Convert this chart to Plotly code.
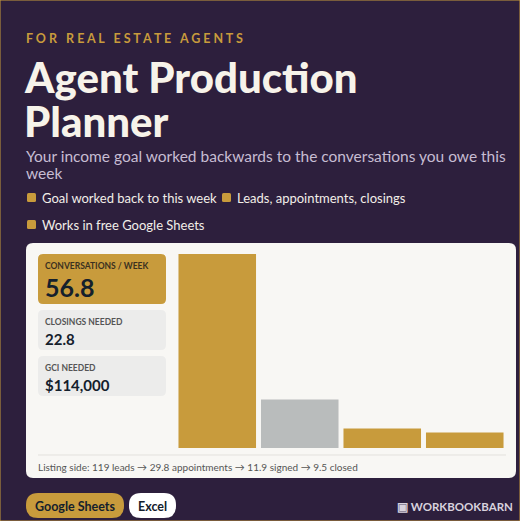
import plotly.graph_objects as go

stages = ["Leads", "Appointments", "Signed", "Closed"]
values = [119, 29.8, 11.9, 9.5]
bar_colors = ["#c89b3c", "#b9bcbc", "#c89b3c", "#c89b3c"]
stats = [("CONVERSATIONS / WEEK", "56.8"), ("CLOSINGS NEEDED", "22.8"), ("GCI NEEDED", "$114,000")]
bullets = ["Goal worked back to this week", "Leads, appointments, closings", "Works in free Google Sheets"]

W, H = 520, 521
BG = "#2d1f3d"; GOLD = "#c89b3c"; CARD = "#f8f7f4"; INK = "#14202c"
FONT = "Lato, Noto Sans, sans-serif"

def px(x): return x / W
def py(y): return 1 - y / H

fig = go.Figure(go.Bar(x=stages, y=values, marker=dict(color=bar_colors, line=dict(width=0)), hoverinfo="skip"))
shapes, ann = [], []
def rect(x0, y0, x1, y1, color, r=0, line=None):
    if r == 0:
        shapes.append(dict(type="rect", xref="paper", yref="paper", x0=px(x0), x1=px(x1), y0=py(y1), y1=py(y0),
                           fillcolor=color, line=line or dict(width=0), layer="below"))
        return
    def P(x, y): return f"{px(x)},{py(y)}"
    path = (f"M{P(x0+r,y0)} L{P(x1-r,y0)} Q{P(x1,y0)} {P(x1,y0+r)} L{P(x1,y1-r)} Q{P(x1,y1)} {P(x1-r,y1)} "
            f"L{P(x0+r,y1)} Q{P(x0,y1)} {P(x0,y1-r)} L{P(x0,y0+r)} Q{P(x0,y0)} {P(x0+r,y0)} Z")
    shapes.append(dict(type="path", xref="paper", yref="paper", path=path, fillcolor=color,
                       line=line or dict(width=0), layer="below"))
def text(x, y, s, size, color, bold=False, anchor="left", family=FONT):
    ann.append(dict(xref="paper", yref="paper", x=px(x), y=py(y), text=f"<b>{s}</b>" if bold else s, showarrow=False,
                    xanchor=anchor, yanchor="middle", xshift=-2 if anchor == "left" else 0,
                    font=dict(size=size, color=color, family=family)))

rect(0, 0, W, H, BG, line=dict(color=GOLD, width=1))
text(26, 38, "F O R   R E A L   E S T A T E   A G E N T S", 12.5, GOLD, True)
text(24, 77, "Agent Production", 42, "#f7f3ea", True, family="Lato Black, Lato, sans-serif")
text(24, 121, "Planner", 42, "#f7f3ea", True, family="Lato Black, Lato, sans-serif")
text(26, 156, "Your income goal worked backwards to the conversations you owe this", 15.5, "#c7bdd3")
text(26, 173, "week", 15.5, "#c7bdd3")
for (bx, by), b in zip([(27, 198), (222, 198), (27, 225)], bullets):
    rect(bx, by - 5, bx + 9, by + 4, GOLD, r=1.5)
    text(bx + 15, by, b, 13, "#f2eee8")

rect(26, 243, 516, 478, CARD, r=7)
boxes = [(254, 304, GOLD), (310, 350, "#ececeb"), (356, 396, "#ececeb")]
for i, ((y0, y1, c), (lab, val)) in enumerate(zip(boxes, stats)):
    rect(38, y0, 166, y1, c, r=5)
    if i == 0:
        text(45, 266, lab, 8.5, "#3a3020", True)
        text(45, 287, val, 25, INK, True)
    else:
        text(45, y0 + 12, lab, 8.5, "#555", True)
        text(45, y0 + 29, val, 15, INK, True)
shapes.append(dict(type="line", xref="paper", yref="paper", x0=px(38), x1=px(506), y0=py(455), y1=py(455),
                   line=dict(color="#e3e1dd", width=1)))
text(38, 467, "Listing side: 119 leads → 29.8 appointments → 11.9 signed → 9.5 closed", 10, "#555")

rect(26, 493, 124, 518, GOLD, r=12)
text(75, 506, "Google Sheets", 12.5, INK, True, "center")
rect(129, 493, 176, 518, "#ffffff", r=12)
text(152.5, 506, "Excel", 12.5, INK, True, "center")
text(515, 506, "▣ WORKBOOKBARN", 11.5, "#d8d2dd", True, "right")

fig.update_layout(width=W, height=H, margin=dict(l=0, r=0, t=0, b=0), paper_bgcolor=BG, plot_bgcolor="rgba(0,0,0,0)",
                  shapes=shapes, annotations=ann, bargap=0.06, showlegend=False,
                  xaxis=dict(domain=[px(176), px(506)], visible=False, fixedrange=True),
                  yaxis=dict(domain=[py(448), py(254)], range=[0, 119], visible=False, fixedrange=True))
fig.write_html("out.html", config={"displayModeBar": False},
               post_script="document.body.style.margin='0';document.body.style.overflow='hidden';document.body.style.background='#2d1f3d';")
